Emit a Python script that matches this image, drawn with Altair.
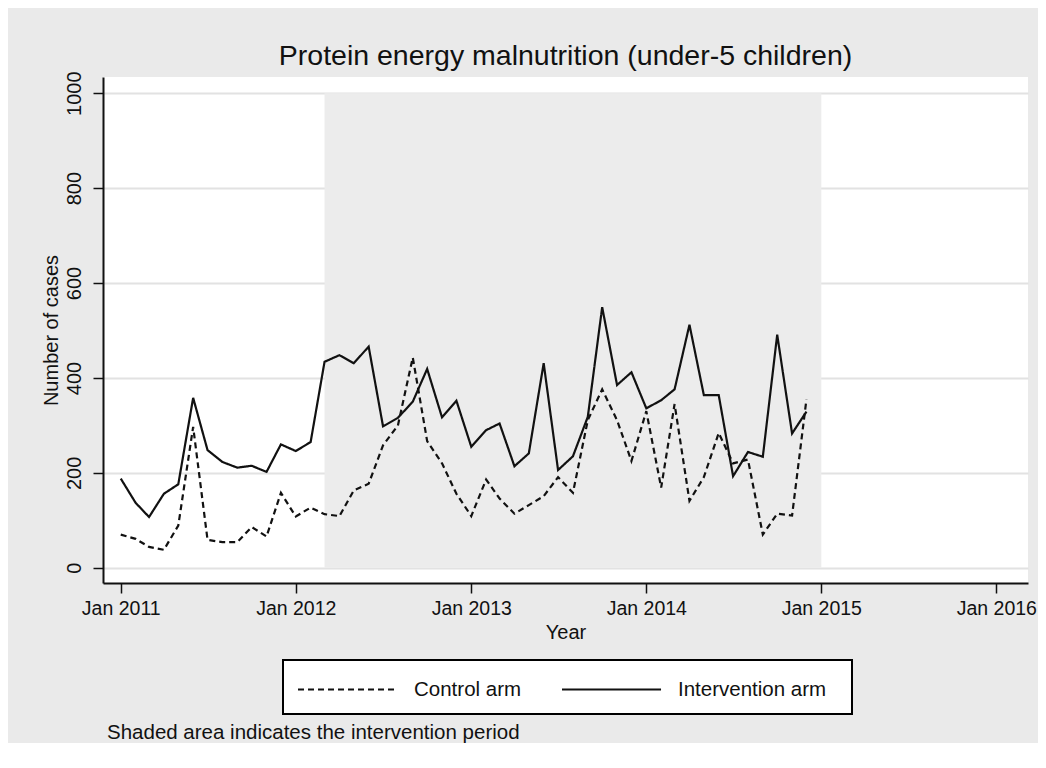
import altair as alt
import pandas as pd

# ---------------- data ----------------
years = [2011, 2012, 2013, 2014]
month_dates = [f"{y}-{m:02d}-01" for y in years for m in range(1, 13)]

control_arm = [70, 61, 44, 38, 89, 297, 59, 54, 54, 86, 66, 158,
               108, 127, 113, 109, 163, 177, 258, 300, 443, 267, 220, 156,
               109, 186, 146, 114, 132, 151, 191, 158, 311, 376, 311, 225,
               330, 169, 345, 141, 191, 284, 220, 228, 70, 114, 110, 355]

intervention_arm = [188, 137, 107, 156, 176, 358, 248, 223, 211, 215, 202, 260,
                    246, 265, 434, 448, 431, 466, 298, 316, 350, 419, 317, 352,
                    255, 290, 304, 214, 241, 431, 206, 235, 318, 549, 385, 412,
                    336, 353, 376, 512, 364, 364, 193, 244, 234, 491, 283, 329]

series_names = ["Control arm", "Intervention arm"]
x_tick_years = [2011, 2012, 2013, 2014, 2015, 2016]
y_ticks = [0, 200, 400, 600, 800, 1000]
shade_start = ["2012-03-01"]
shade_end = ["2015-01-01"]
shade_low = [0]
shade_high = [1000]

title_text = "Protein energy malnutrition (under-5 children)"
note_text = "Shaded area indicates the intervention period"

FONT = "Liberation Sans"
INK = "#111111"

lines_df = pd.DataFrame({
    "date": month_dates * 2,
    "cases": control_arm + intervention_arm,
    "arm": [series_names[0]] * len(control_arm) + [series_names[1]] * len(intervention_arm),
})
shade_df = pd.DataFrame({"start": shade_start, "end": shade_end,
                         "lo": shade_low, "hi": shade_high})
note_df = pd.DataFrame({"note": [note_text]})

x_scale = alt.Scale(
    type="utc",
    domain=[alt.DateTime(year=2010, month=11, date=25, utc=True),
            alt.DateTime(year=2016, month=3, date=7, utc=True)],
)
y_scale = alt.Scale(domain=[-32, 1034], nice=False, zero=False)

x_axis = alt.Axis(
    values=[alt.DateTime(year=y, month=1, date=1, utc=True) for y in x_tick_years],
    format="%b %Y", grid=False, title="Year",
)
y_axis = alt.Axis(values=y_ticks, format="d", grid=True, title="Number of cases",
                  labelAngle=270, labelAlign="center", labelBaseline="bottom")

shade = alt.Chart(shade_df).mark_rect(color="#ececec").encode(
    x=alt.X("start:T", scale=x_scale, axis=x_axis),
    x2="end:T",
    y=alt.Y("lo:Q", scale=y_scale, axis=y_axis),
    y2="hi:Q",
)

# legend symbol: a long horizontal stroke (99 px) drawn from a 29 px symbol box
legend_symbol_path = "M-1,0H5.83"

lines = alt.Chart(lines_df).mark_line(color=INK, strokeWidth=2.2).encode(
    x=alt.X("date:T", scale=x_scale, axis=x_axis),
    y=alt.Y("cases:Q", scale=y_scale, axis=y_axis),
    strokeDash=alt.StrokeDash(
        "arm:N",
        scale=alt.Scale(domain=series_names, range=[[6, 4], [1, 0]]),
        legend=alt.Legend(
            # an invisible (white on white) title on the right only widens the box
            title=".", titleOrient="right", titleColor="white", titleFontSize=8,
            titlePadding=9,
            orient="none", legendX=180, legendY=583,
            direction="horizontal", fillColor="white", strokeColor="black",
            padding=14, symbolType=legend_symbol_path, symbolSize=841,
            symbolStrokeWidth=2, symbolStrokeColor=INK,
            labelFontSize=20.5, labelFont=FONT, labelColor=INK,
            labelOffset=86, columnPadding=36,
        ),
    ),
)

note = alt.Chart(note_df).mark_text(
    align="left", baseline="alphabetic", fontSize=20.5, font=FONT, color=INK
).encode(x=alt.value(4), y=alt.value(662), text="note:N")

chart = alt.layer(shade, lines, note).properties(
    width=925, height=506,
    title=alt.TitleParams(title_text, fontSize=28.5, font=FONT, fontWeight="normal",
                          color=INK, anchor="middle", frame="group", offset=0),
    background="#eaeaea",
    padding={"left": 95, "top": 69, "right": 10, "bottom": 160},
    autosize=alt.AutoSizeParams(type="none"),
).configure_view(
    fill="white", stroke=None,
).configure_legend(
    strokeWidth=2,
).configure_axis(
    labelFont=FONT, titleFont=FONT, labelFontSize=20, titleFontSize=20,
    labelColor=INK, titleColor=INK, titleFontWeight="normal",
    domainColor=INK, domainWidth=2, tickColor=INK, tickWidth=1.5, tickSize=10,
    gridColor="#e2e2e2", gridWidth=2,
).configure_axisY(
    labelPadding=9, titlePadding=3,
).configure_axisX(
    labelFontSize=19.5, labelPadding=6, titlePadding=5,
)

chart.save("out.html", embed_options={"renderer": "svg", "actions": False})
